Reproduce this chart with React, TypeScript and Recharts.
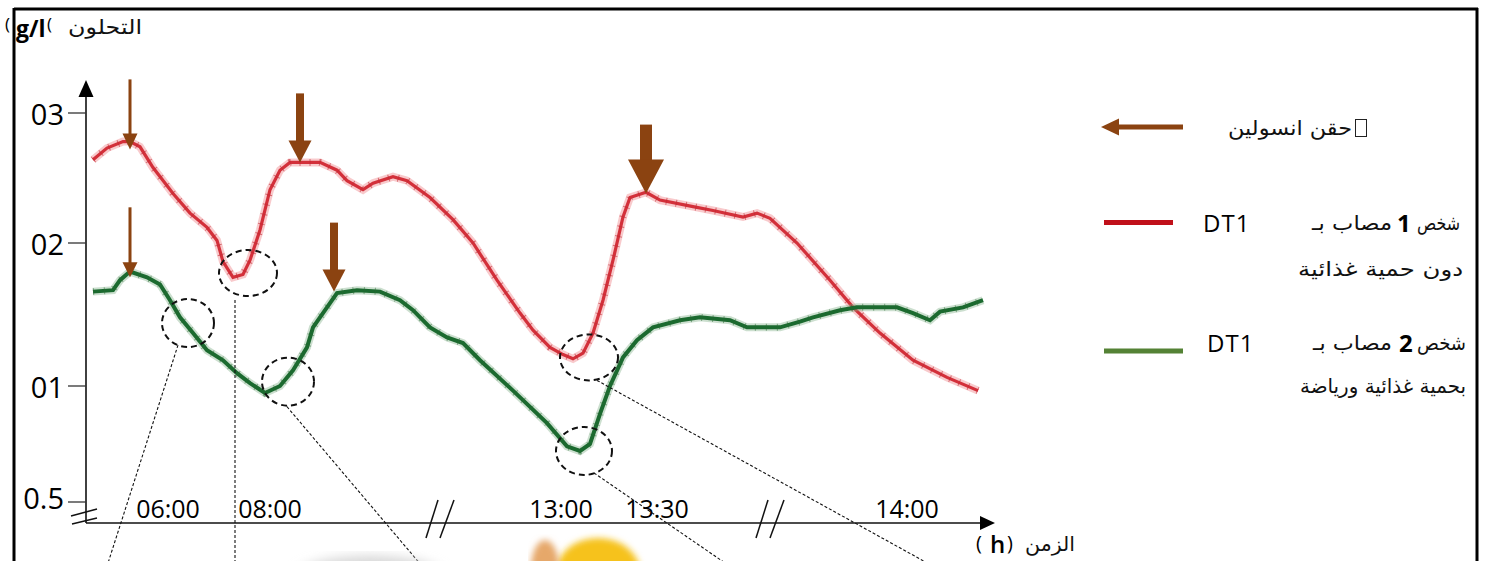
import React from 'react';
import { LineChart, Line, XAxis, YAxis, ReferenceDot } from 'recharts';

// glucose axis: the drawn axis is not linear, so ticks are placed at the stops read off the picture
const glucoseTicks = [0.5, 1, 2, 3];
const glucoseTickLabels = ['0.5', '01', '02', '03'];
const axisStops = [0, 116, 259, 389];

// time axis (broken), positions along the axis
const timeTicks = [82, 184, 475, 571, 821];
const timeTickLabels = ['06:00', '08:00', '13:00', '13:30', '14:00'];

// person 1 (DT1, no diet) - red
const redTime = [7, 21, 37, 44, 54, 67, 87, 104, 121, 131, 137, 147, 157, 164, 174, 184, 194, 204, 214, 234, 251, 261, 277, 287, 307, 321, 344, 367, 387, 411, 434, 447, 464, 477, 487, 497, 507, 517, 527, 537, 544, 560, 574, 607, 627, 657, 671, 684, 711, 744, 767, 794, 827, 861, 892];
const redGlucose = [2.64, 2.73, 2.78, 2.78, 2.74, 2.58, 2.38, 2.23, 2.12, 2.02, 1.87, 1.76, 1.78, 1.88, 2.1, 2.41, 2.56, 2.62, 2.62, 2.62, 2.56, 2.48, 2.41, 2.46, 2.51, 2.48, 2.35, 2.18, 2.0, 1.74, 1.51, 1.39, 1.27, 1.22, 1.19, 1.23, 1.37, 1.6, 1.88, 2.2, 2.35, 2.39, 2.33, 2.28, 2.25, 2.2, 2.23, 2.19, 2.0, 1.74, 1.55, 1.37, 1.18, 1.06, 0.98];

// person 2 (DT1, diet + sport) - green
const greenTime = [7, 27, 34, 44, 61, 74, 84, 94, 107, 121, 137, 151, 164, 179, 194, 207, 221, 227, 241, 251, 271, 294, 314, 327, 344, 361, 377, 394, 427, 461, 481, 494, 504, 514, 524, 537, 551, 567, 594, 614, 644, 661, 694, 714, 727, 754, 771, 811, 827, 844, 854, 877, 897];
const greenGlucose = [1.66, 1.67, 1.74, 1.8, 1.76, 1.71, 1.6, 1.48, 1.37, 1.25, 1.18, 1.09, 1.02, 0.97, 1.0, 1.11, 1.27, 1.41, 1.55, 1.65, 1.67, 1.66, 1.6, 1.53, 1.41, 1.34, 1.3, 1.18, 0.98, 0.84, 0.74, 0.72, 0.75, 0.88, 1.0, 1.2, 1.32, 1.41, 1.46, 1.48, 1.46, 1.41, 1.41, 1.45, 1.48, 1.53, 1.55, 1.55, 1.51, 1.46, 1.52, 1.55, 1.6];

// insulin injections (arrow tips)
const injectionTime = [44, 214, 560, 44, 248];
const injectionGlucose = [2.72, 2.62, 2.38, 1.76, 1.66];
const arrowLook = [
  { len: 70, shaft: 3, head: 15, headH: 16 },
  { len: 69, shaft: 8, head: 23, headH: 22 },
  { len: 69, shaft: 12, head: 36, headH: 34 },
  { len: 70, shaft: 3, head: 15, headH: 15 },
  { len: 69, shaft: 8, head: 23, headH: 22 },
];

// circled moments
const circleTime = [162, 102, 202, 503, 498];
const circleGlucose = [1.79, 1.44, 1.03, 1.2, 0.72];
const circleLook = [
  { rx: 29, ry: 23, sx: -13, sy: 27, ex: -13, ey: 290 },
  { rx: 26, ry: 24, sx: -10, sy: 22, ex: -80, ey: 240 },
  { rx: 26, ry: 24, sx: -1, sy: 25, ex: 132, ey: 182 },
  { rx: 29, ry: 23, sx: 8, sy: 23, ex: 339, ey: 206 },
  { rx: 28, ry: 24, sx: 10, sy: 22, ex: 141, ey: 112 },
];

const breakTimes = [354, 684];

const BROWN = '#8b4311';
const AR = '"DejaVu Sans", sans-serif';
const LAT = '"Open Sans", sans-serif';

const toAxis = (g: number) => {
  let i = 0;
  while (i < glucoseTicks.length - 2 && g > glucoseTicks[i + 1]) i++;
  const f = (g - glucoseTicks[i]) / (glucoseTicks[i + 1] - glucoseTicks[i]);
  return axisStops[i] + f * (axisStops[i + 1] - axisStops[i]);
};

const redData = redTime.map((t, i) => ({ t, v: toAxis(redGlucose[i]) }));
const greenData = greenTime.map((t, i) => ({ t, v: toAxis(greenGlucose[i]) }));

const GlucoseTick = (props: any) => {
  const { x, y, payload } = props;
  const idx = axisStops.indexOf(payload.value);
  const dy = idx === 0 ? -5 : 0;
  return (
    <text x={x - 1} y={y + dy} textAnchor="end" dominantBaseline="central" fontFamily={LAT} fontSize={29} fill="#000">
      {glucoseTickLabels[idx]}
    </text>
  );
};

const TimeTick = (props: any) => {
  const { x, y, payload } = props;
  const idx = timeTicks.indexOf(payload.value);
  return (
    <text x={x} y={y - 15} textAnchor="middle" dominantBaseline="central" fontFamily={LAT} fontSize={25} fill="#000">
      {timeTickLabels[idx]}
    </text>
  );
};

const InsulinArrow = ({ cx, cy, look }: any) => (
  <g fill={BROWN}>
    <rect x={cx - look.shaft / 2} y={cy - look.len} width={look.shaft} height={look.len - look.headH + 1} />
    <polygon points={`${cx - look.head / 2},${cy - look.headH} ${cx + look.head / 2},${cy - look.headH} ${cx},${cy}`} />
  </g>
);

const Circled = ({ cx, cy, look }: any) => (
  <g fill="none" stroke="#111">
    <ellipse cx={cx} cy={cy} rx={look.rx} ry={look.ry} strokeWidth={2} strokeDasharray="6 4" />
    <line x1={cx + look.sx} y1={cy + look.sy} x2={cx + look.ex} y2={cy + look.ey} strokeWidth={1.1} strokeDasharray="3 2" />
  </g>
);

const BreakMark = ({ cx, cy }: any) => (
  <g stroke="#111" strokeWidth={1.5}>
    <line x1={cx - 14} y1={cy + 15} x2={cx - 2} y2={cy - 23} />
    <line x1={cx} y1={cy + 15} x2={cx + 14} y2={cy - 23} />
  </g>
);

const YBreak = ({ cx, cy }: any) => (
  <g stroke="#111" strokeWidth={1.4}>
    <line x1={cx - 15} y1={cy} x2={cx + 11} y2={cy - 7} />
    <line x1={cx - 14} y1={cy + 8} x2={cx + 11} y2={cy + 2} />
  </g>
);

const YArrow = ({ cx, cy }: any) => (
  <polygon points={`${cx - 7.5},${cy + 12} ${cx + 7.5},${cy + 12} ${cx},${cy - 5}`} fill="#000" />
);

const XArrow = ({ cx, cy }: any) => (
  <polygon points={`${cx - 13},${cy - 7} ${cx - 13},${cy + 7} ${cx + 2},${cy}`} fill="#000" />
);

// Arabic text squeezed/stretched to the width it has in the reference
const Ar = ({ right, y, w, children }: any) => (
  <text x={right - w} y={y} textLength={w} lengthAdjust="spacingAndGlyphs" fontFamily={AR} fontSize={20} dominantBaseline="central" fill="#111">
    {children}
  </text>
);

const Overlay = () => (
  <svg width={1485} height={561} style={{ position: 'absolute', left: 0, top: 0, pointerEvents: 'none' }}>
    <defs>
      <filter id="blur3"><feGaussianBlur stdDeviation="3" /></filter>
      <filter id="blur6"><feGaussianBlur stdDeviation="6" /></filter>
    </defs>
    {/* frame */}
    <line x1={14} y1={9} x2={1478} y2={9} stroke="#000" strokeWidth={3} />
    <line x1={14} y1={8} x2={14} y2={561} stroke="#000" strokeWidth={3} />
    <line x1={1477} y1={8} x2={1477} y2={561} stroke="#000" strokeWidth={3} />

    {/* faded pictures under the graph */}
    <ellipse cx={370} cy={578} rx={75} ry={22} fill="#d6d6d6" filter="url(#blur6)" />
    <ellipse cx={598} cy={572} rx={42} ry={34} fill="#f6c21c" filter="url(#blur3)" />
    <ellipse cx={545} cy={568} rx={14} ry={28} fill="#e6a86a" filter="url(#blur3)" />

    {/* y axis title */}
    <text x={5} y={23} fontFamily={LAT} fontSize={17} dominantBaseline="central">(</text>
    <text x={16} y={28} fontFamily={LAT} fontSize={23} fontWeight={700} dominantBaseline="central">g/l</text>
    <text x={47} y={23} fontFamily={LAT} fontSize={17} dominantBaseline="central">(</text>
    <Ar right={142} y={27} w={74}>التحلون</Ar>

    {/* x axis title */}
    <text x={976} y={542} fontFamily={LAT} fontSize={20} dominantBaseline="central">(</text>
    <text x={990} y={543} fontFamily={LAT} fontSize={24} fontWeight={600} dominantBaseline="central">h</text>
    <text x={1007} y={542} fontFamily={LAT} fontSize={20} dominantBaseline="central">)</text>
    <Ar right={1075} y={544} w={50}>الزمن</Ar>

    {/* legend */}
    <line x1={1117} y1={127} x2={1183} y2={127} stroke={BROWN} strokeWidth={5} />
    <polygon points="1101,127 1119,118.5 1119,135.5" fill={BROWN} />
    <Ar right={1352} y={128} w={124}>حقن انسولين</Ar>
    <rect x={1355.5} y={119.5} width={11} height={17} fill="none" stroke="#222" strokeWidth={1} />

    <line x1={1104} y1={222.5} x2={1173} y2={222.5} stroke="#c0101a" strokeWidth={5} />
    <text x={1203} y={222} fontFamily={LAT} fontSize={24} fontWeight={500} letterSpacing={1} dominantBaseline="central">DT1</text>
    <Ar right={1392} y={223} w={80}>مصاب بـ</Ar>
    <text x={1397} y={222} fontFamily={LAT} fontSize={24} fontWeight={700} dominantBaseline="central">1</text>
    <Ar right={1460} y={223} w={43}>شخص</Ar>
    <Ar right={1463} y={269} w={165}>دون حمية غذائية</Ar>

    <line x1={1104} y1={351} x2={1183} y2={351} stroke="#548235" strokeWidth={5} />
    <text x={1207} y={342} fontFamily={LAT} fontSize={24} fontWeight={500} letterSpacing={1} dominantBaseline="central">DT1</text>
    <Ar right={1392} y={343} w={79}>مصاب بـ</Ar>
    <text x={1399} y={342} fontFamily={LAT} fontSize={24} fontWeight={700} dominantBaseline="central">2</text>
    <Ar right={1466} y={343} w={49}>شخص</Ar>
    <Ar right={1466} y={386} w={166}>بحمية غذائية ورياضة</Ar>
  </svg>
);

const App = () => (
  <div style={{ position: 'fixed', left: 0, top: 0, width: 1485, height: 561, background: '#fff', overflow: 'hidden' }}>
    <LineChart width={1485} height={561} margin={{ top: 85, right: 492, bottom: 37, left: 85 }}>
      <XAxis
        type="number"
        dataKey="t"
        domain={[0, 907]}
        allowDataOverflow
        ticks={timeTicks}
        interval={0}
        tick={<TimeTick />}
        tickLine={false}
        tickSize={0}
        tickMargin={0}
        height={1}
        axisLine={{ stroke: '#111', strokeWidth: 1.6 }}
      />
      <YAxis
        type="number"
        dataKey="v"
        domain={[-21, 417]}
        allowDataOverflow
        ticks={axisStops}
        interval={0}
        tick={<GlucoseTick />}
        tickSize={18}
        tickMargin={3}
        tickLine={{ stroke: '#333', strokeWidth: 1.3 }}
        width={1}
        axisLine={{ stroke: '#111', strokeWidth: 1.6 }}
      />
      {/* red: halo, core, fuzzy hair marks */}
      <Line data={redData} dataKey="v" type="linear" stroke="#f08a8f" strokeOpacity={0.45} strokeWidth={8} dot={false} isAnimationActive={false} />
      <Line data={redData} dataKey="v" type="linear" stroke="#d3303a" strokeWidth={3.2} dot={false} isAnimationActive={false} />
      <Line data={redData} dataKey="v" type="linear" stroke="#c22a34" strokeOpacity={0.6} strokeWidth={7} strokeDasharray="1 9" dot={false} isAnimationActive={false} />
      {/* green */}
      <Line data={greenData} dataKey="v" type="linear" stroke="#7fae88" strokeOpacity={0.4} strokeWidth={8} dot={false} isAnimationActive={false} />
      <Line data={greenData} dataKey="v" type="linear" stroke="#1b6a2f" strokeWidth={4} dot={false} isAnimationActive={false} />
      <Line data={greenData} dataKey="v" type="linear" stroke="#2a6a34" strokeOpacity={0.5} strokeWidth={7} strokeDasharray="1 10" dot={false} isAnimationActive={false} />

      {injectionTime.map((t, i) => (
        <ReferenceDot key={`inj${i}`} x={t} y={toAxis(injectionGlucose[i])} r={1} shape={(p: any) => <InsulinArrow {...p} look={arrowLook[i]} />} />
      ))}
      {circleTime.map((t, i) => (
        <ReferenceDot key={`c${i}`} x={t} y={toAxis(circleGlucose[i])} r={1} shape={(p: any) => <Circled {...p} look={circleLook[i]} />} />
      ))}
      {breakTimes.map((t) => (
        <ReferenceDot key={`b${t}`} x={t} y={-21} r={1} shape={(p: any) => <BreakMark {...p} />} />
      ))}
      <ReferenceDot x={0} y={-14} r={1} shape={(p: any) => <YBreak {...p} />} />
      <ReferenceDot x={0} y={417} r={1} shape={(p: any) => <YArrow {...p} />} />
      <ReferenceDot x={907} y={-21} r={1} shape={(p: any) => <XArrow {...p} />} />
    </LineChart>
    <Overlay />
  </div>
);

export default App;
